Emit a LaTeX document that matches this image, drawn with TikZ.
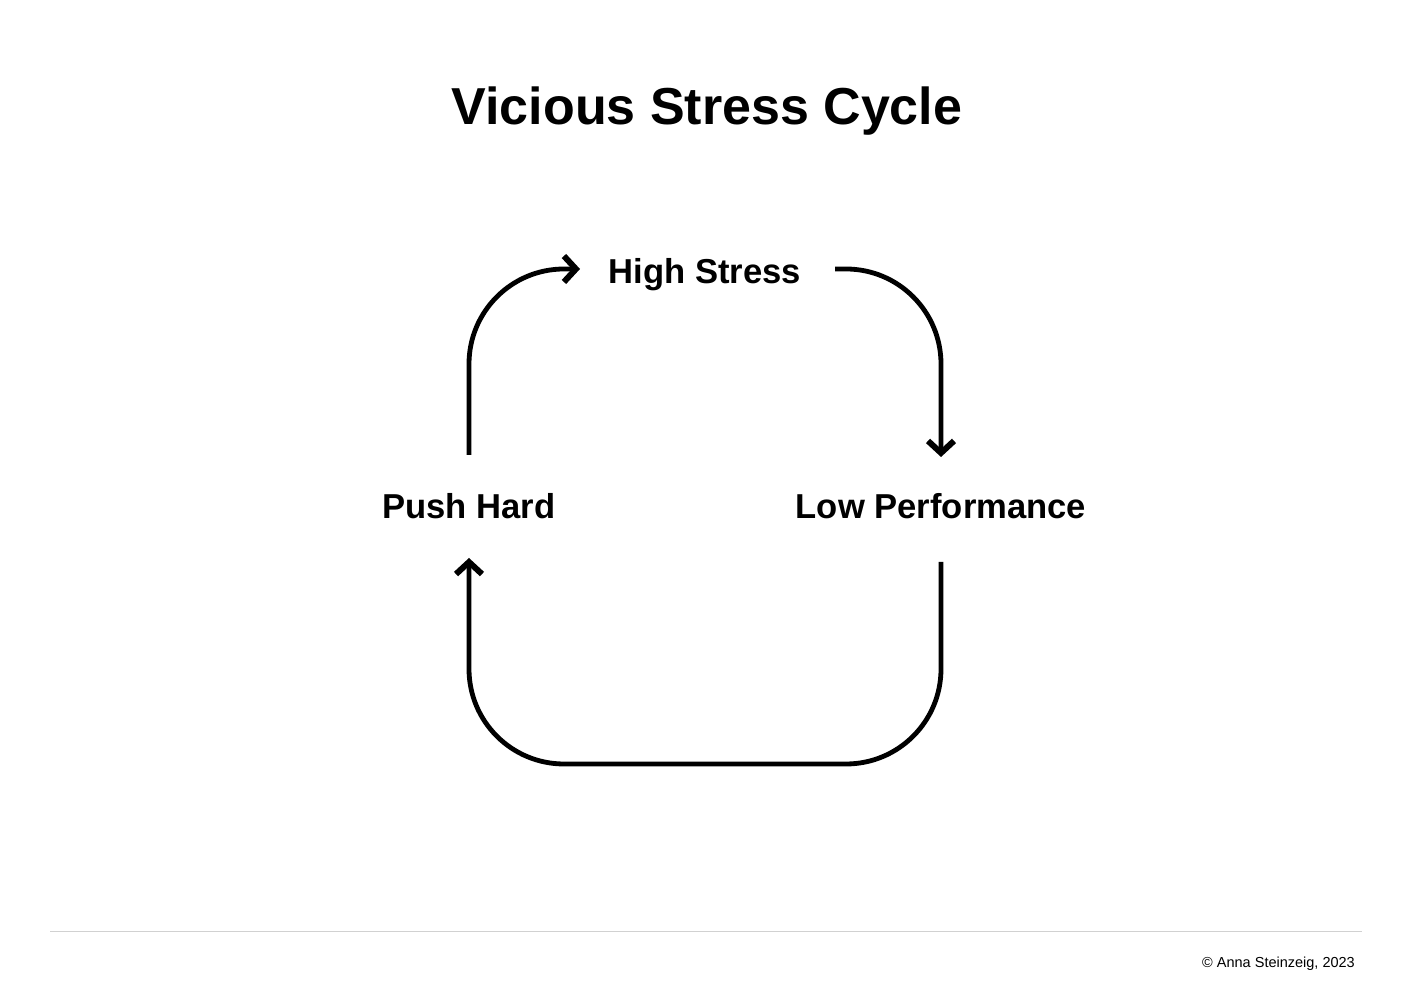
\documentclass[tikz,border=0pt]{standalone}
\usepackage{fontspec}
\setmainfont{Liberation Sans}
\usetikzlibrary{arrows.meta,calc}
\begin{document}
\begin{tikzpicture}[x=1pt,y=1pt,
  lbl/.style={font=\fontsize{34.6}{40}\selectfont\bfseries, inner sep=0pt, anchor=base},
  cyc/.style={line width=4.8pt, rounded corners=95pt,
    -{Straight Barb[length=12pt,width=26pt,line width=6pt,sharp]}},
  rule/.style={draw=black!18, line width=1pt}]
\useasboundingbox (0,0) rectangle (1413,1000);
\node[font=\fontsize{52}{60}\selectfont\bfseries, anchor=base, inner sep=0pt] (title) at (707,875) {Vicious Stress Cycle};
\node[lbl] (hs) at (705,716) {High Stress};
\node[lbl] (ph) at (469,481) {Push Hard};
\node[lbl] (lp) at (941,481) {Low Performance};
% connector ends
\coordinate (phout) at ($(ph.base)+(0,64)$);
\coordinate (hsin)  at ($(hs.base)+(-125,15)$);
\coordinate (hsout) at ($(hs.base)+(130,15)$);
\coordinate (lpin)  at ($(lp.base)+(0,62)$);
\coordinate (lpout) at ($(lp.base)+(0,-43)$);
\coordinate (phin)  at ($(ph.base)+(0,-39)$);
\coordinate (bot)   at ($(ph.base)!0.5!(lp.base)+(0,-245)$);
\draw[cyc] (phout) |- (hsin);
\draw[cyc] (hsout) -| (lpin);
\draw[cyc] (lpout) |- (bot) -| (phin);
% footer
\coordinate (fl) at (50,68);
\coordinate (fr) at (1362,68);
\draw[rule] (fl) -- (fr);
\node[anchor=base east, inner sep=0pt, font=\fontsize{14.5}{17}\selectfont] (credit) at (1355,32) {© Anna Steinzeig, 2023};
\end{tikzpicture}
\end{document}
